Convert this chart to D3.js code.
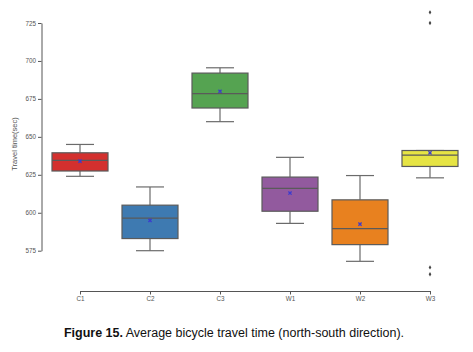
<!DOCTYPE html>
<html lang="en">
<head>
    <meta charset="UTF-8">
    <title>Average bicycle travel time</title>
    <script src="https://d3js.org/d3.v7.min.js"></script>
    <style>
        body{
            margin: 0;
            background: #fff;
        }
        svg{
            display: block;
        }
        .axis text{
            font-family: "Liberation Sans", Arial, sans-serif;
            fill: #555;
        }
        .axis path, .axis line{
            stroke: #555;
        }
    </style>
</head>
<body>
    <div id="chart"></div>

    <script>
        // group names and box statistics (seconds)
        const categories = ["C1", "C2", "C3", "W1", "W2", "W3"];
        const whiskerLow  = [624, 575, 660, 593, 568, 623];
        const q1          = [627.5, 583, 669, 601, 579, 630.5];
        const medians     = [634.5, 596.5, 678.5, 616, 589.5, 638];
        const q3          = [639.5, 605, 692, 623.5, 608.5, 641];
        const whiskerHigh = [645, 617, 695.5, 636.5, 624.5, 641];
        const means       = [634, 595, 680, 613, 592.5, 639.5];
        const outliers    = [[], [], [], [], [], [732, 725, 564, 559.5]];
        const yTicks = [575, 600, 625, 650, 675, 700, 725];

        const colors = ["#d3302e", "#3e7ab1", "#55a351", "#925a9e", "#e8811f", "#e6e444"];

        const width = 473;
        const height = 352;

        const svg = d3.select("#chart")
            .append("svg")
            .attr("width", width)
            .attr("height", height);

        const x = d3.scalePoint()
            .domain(categories)
            .range([80, 430]);

        const y = d3.scaleLinear()
            .domain([575, 725])
            .range([250.7, 23]);

        const boxW = 56;
        const capW = 28;

        // y axis (trimmed spine)
        const yAxis = svg.append("g")
            .attr("class", "axis")
            .attr("transform", "translate(41.5,0)")
            .call(d3.axisLeft(y).tickValues(yTicks).tickSize(3.5).tickSizeOuter(0).tickPadding(2));
        yAxis.selectAll("text").style("font-size", "6.3px");

        // x axis (trimmed spine)
        const xAxis = svg.append("g")
            .attr("class", "axis")
            .attr("transform", "translate(0,291)")
            .call(d3.axisBottom(x).tickSize(3.5).tickSizeOuter(0).tickPadding(2));
        xAxis.selectAll("text").style("font-size", "6.3px");

        // y label
        svg.append("text")
            .attr("transform", "translate(15,144) rotate(-90)")
            .attr("text-anchor", "middle")
            .attr("dominant-baseline", "middle")
            .style("font-family", "Liberation Sans, Arial, sans-serif")
            .style("font-size", "7.5px")
            .style("fill", "#555")
            .text("Travel time(sec)");

        const groups = svg.selectAll(".box")
            .data(categories)
            .enter().append("g")
            .attr("class", "box");

        // whiskers
        groups.append("line")
            .attr("x1", d => x(d)).attr("x2", d => x(d))
            .attr("y1", (d, i) => y(whiskerHigh[i]))
            .attr("y2", (d, i) => y(q3[i]))
            .attr("stroke", "#6b6b6b").attr("stroke-width", 1.2);
        groups.append("line")
            .attr("x1", d => x(d)).attr("x2", d => x(d))
            .attr("y1", (d, i) => y(q1[i]))
            .attr("y2", (d, i) => y(whiskerLow[i]))
            .attr("stroke", "#6b6b6b").attr("stroke-width", 1.2);
        // caps
        groups.append("line")
            .attr("x1", d => x(d) - capW / 2).attr("x2", d => x(d) + capW / 2)
            .attr("y1", (d, i) => y(whiskerHigh[i]))
            .attr("y2", (d, i) => y(whiskerHigh[i]))
            .attr("stroke", "#6b6b6b").attr("stroke-width", 1.2);
        groups.append("line")
            .attr("x1", d => x(d) - capW / 2).attr("x2", d => x(d) + capW / 2)
            .attr("y1", (d, i) => y(whiskerLow[i]))
            .attr("y2", (d, i) => y(whiskerLow[i]))
            .attr("stroke", "#6b6b6b").attr("stroke-width", 1.2);

        // boxes
        groups.append("rect")
            .attr("x", d => x(d) - boxW / 2)
            .attr("width", boxW)
            .attr("y", (d, i) => y(q3[i]))
            .attr("height", (d, i) => y(q1[i]) - y(q3[i]))
            .attr("fill", (d, i) => colors[i])
            .attr("stroke", "#5a5a5a")
            .attr("stroke-width", 1.2);

        // medians
        groups.append("line")
            .attr("x1", d => x(d) - boxW / 2).attr("x2", d => x(d) + boxW / 2)
            .attr("y1", (d, i) => y(medians[i]))
            .attr("y2", (d, i) => y(medians[i]))
            .attr("stroke", "#5a5a5a").attr("stroke-width", 1.2);

        // means (small blue x)
        const m = 1.6;
        groups.append("path")
            .attr("d", (d, i) => {
                const cx = x(d), cy = y(means[i]);
                return `M${cx - m},${cy - m}L${cx + m},${cy + m}M${cx - m},${cy + m}L${cx + m},${cy - m}`;
            })
            .attr("stroke", "#3b3bd0")
            .attr("stroke-width", 1.3)
            .attr("fill", "none");

        // outliers (diamonds)
        groups.each(function(d, i) {
            d3.select(this).selectAll(".flier")
                .data(outliers[i])
                .enter().append("path")
                .attr("class", "flier")
                .attr("d", v => {
                    const cx = x(d), cy = y(v);
                    return `M${cx},${cy - 2.2}L${cx + 1.3},${cy}L${cx},${cy + 2.2}L${cx - 1.3},${cy}Z`;
                })
                .attr("fill", "#444");
        });

        // caption
        const caption = svg.append("text")
            .attr("x", 234)
            .attr("y", 337)
            .attr("text-anchor", "middle")
            .style("font-family", "Liberation Sans Narrow, Arial Narrow, Liberation Sans, sans-serif")
            .style("font-size", "12.5px")
            .style("fill", "#111");
        caption.append("tspan").style("font-weight", "bold").text("Figure 15.");
        caption.append("tspan").text(" Average bicycle travel time (north-south direction).");
    </script>
</body>
</html>
